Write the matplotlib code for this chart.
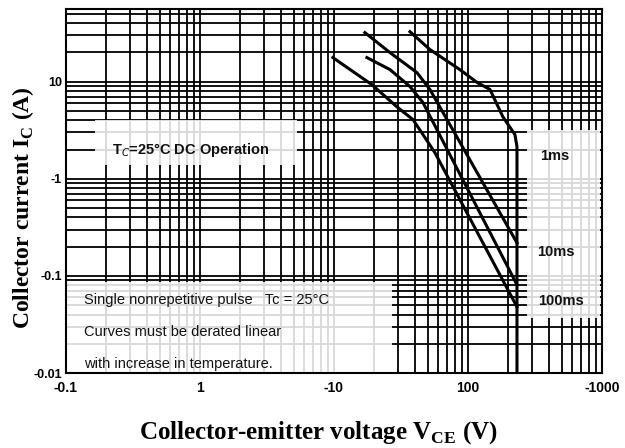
import numpy as np
import matplotlib.pyplot as plt
from matplotlib.patches import Rectangle
from matplotlib.ticker import FixedLocator, LogLocator, NullFormatter

# safe operating area curves (V, A)
dc_v = [9.8, 19.2, 29.5, 38.9, 47.8, 56.7, 232]
dc_i = [17.7, 9.3, 5.5, 4.06, 2.65, 1.85, 0.048]
ms100_v = [17.6, 26.2, 36.9, 46.1, 58.7, 232]
ms100_i = [17.7, 13.3, 8.9, 6.1, 3.2, 0.081]
ms10_v = [17.0, 26.2, 41.6, 52.0, 232]
ms10_i = [32.0, 19.9, 12.4, 8.3, 0.219]
ms1_v = [36.9, 52.0, 87.0, 117.0, 146.0, 182.0, 224.0, 232.0, 232.0]
ms1_i = [32.7, 21.4, 13.3, 9.8, 8.3, 4.35, 2.85, 2.14, 0.01]

x_ticks = [0.1, 1, 10, 100, 1000]
x_labels = ['-0.1', '1', '-10', '100', '-1000']
y_ticks = [0.01, 0.1, 1, 10]
y_labels = ['-0.01', '-0.1', '-1', '10']

fig = plt.figure(figsize=(6.25, 4.48), dpi=100)
ax = fig.add_axes([66/625, 1-373/448, (602-66)/625, (373-9)/448])
ax.set_xscale('log')
ax.set_yscale('log')
ax.set_xlim(0.1, 1000)
ax.set_ylim(0.01, 56)

ax.xaxis.set_major_locator(FixedLocator(x_ticks))
ax.yaxis.set_major_locator(FixedLocator(y_ticks))
ax.set_xticklabels(x_labels)
ax.set_yticklabels(y_labels)
ax.xaxis.set_minor_locator(LogLocator(base=10, subs=np.arange(2, 10)))
ax.yaxis.set_minor_locator(LogLocator(base=10, subs=np.arange(2, 10)))
ax.xaxis.set_minor_formatter(NullFormatter())
ax.yaxis.set_minor_formatter(NullFormatter())
ax.tick_params(which='both', length=0)
ax.tick_params(axis='x', pad=6, labelsize=10)
ax.tick_params(axis='y', pad=3, labelsize=9)
for lab in ax.get_xticklabels() + ax.get_yticklabels():
    lab.set_fontweight('bold')
    lab.set_family('Liberation Sans')

ax.grid(which='both', color='black', linewidth=1.3)
for s in ax.spines.values():
    s.set_linewidth(1.5)

# white label boxes over the grid
def box(x0, y0, x1, y1):
    ax.add_patch(Rectangle((x0, y0), x1-x0, y1-y0, transform=ax.transAxes,
                           facecolor='white', edgecolor='none', alpha=0.85, zorder=2.5))

def px(xp, yp):
    return (xp-66)/536, (373-yp)/364

box(*px(95, 165), *px(297, 120))
box(*px(66, 373), *px(392, 282))
box(*px(527, 318), *px(600, 130))

for v, i in [(dc_v, dc_i), (ms100_v, ms100_i), (ms10_v, ms10_i), (ms1_v, ms1_i)]:
    ax.plot(v, i, color='black', linewidth=2.2, zorder=3)

tfont = dict(family='Liberation Sans', fontsize=10.5, color='#111111', zorder=4,
             transform=ax.transAxes, va='center')
ax.text(*px(112, 150), 'T$_C$=25°C DC Operation', fontweight='bold', **tfont)
ax.text(*px(84, 300), 'Single nonrepetitive pulse   Tc = 25°C', **tfont)
ax.text(*px(84, 332), 'Curves must be derated linear', **tfont)
ax.text(*px(84, 364), 'with increase in temperature.', **tfont)
ax.text(*px(540, 156), '1ms', fontweight='bold', **tfont)
ax.text(*px(537, 252), '10ms', fontweight='bold', **tfont)
ax.text(*px(538, 301), '100ms', fontweight='bold', **tfont)

lfont = dict(family='Liberation Serif', fontweight='bold')
fig.text(23/625, 1-208/448, 'Collector current I$_\\mathregular{C}$ (A)', rotation=90,
         ha='center', va='center', fontsize=17, **lfont)
fig.text(318/625, 1-433/448, 'Collector-emitter voltage V$_\\mathregular{CE}$ (V)',
         ha='center', va='center', fontsize=18, **lfont)

fig.savefig('out.png', dpi=100)
